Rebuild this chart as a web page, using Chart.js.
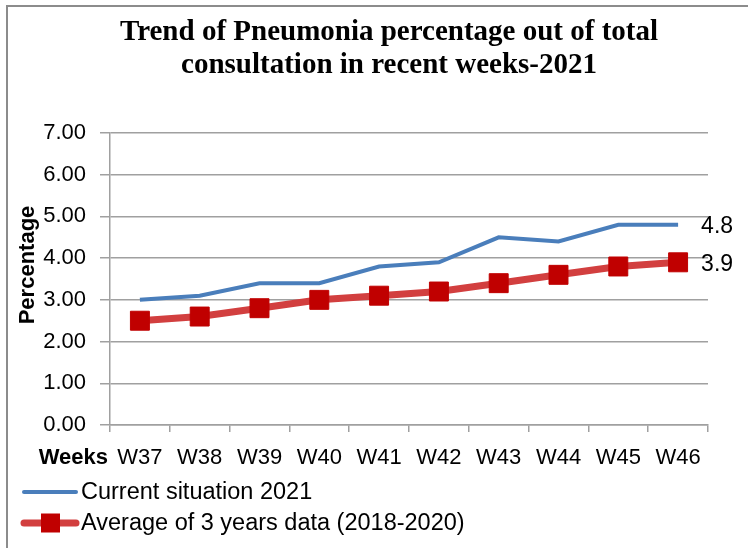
<!DOCTYPE html>
<html>
<head>
<meta charset="utf-8">
<script src="https://cdn.jsdelivr.net/npm/chart.js@4.4.0/dist/chart.umd.min.js"></script>
<style>
    body { margin: 0; background: #fff; }
    #wrap { width: 748px; height: 548px; }
</style>
</head>
<body>
<div id="wrap"><canvas id="pneumoniaChart" width="748" height="548"></canvas></div>
<script>
const weeks = ['W37', 'W38', 'W39', 'W40', 'W41', 'W42', 'W43', 'W44', 'W45', 'W46'];
const current2021 = [3.0, 3.1, 3.4, 3.4, 3.8, 3.9, 4.5, 4.4, 4.8, 4.8];
const avg3Years = [2.5, 2.6, 2.8, 3.0, 3.1, 3.2, 3.4, 3.6, 3.8, 3.9];
const yTicks = [0, 1, 2, 3, 4, 5, 6, 7];

const titleLines = ['Trend of Pneumonia percentage out of total', 'consultation in recent weeks-2021'];
const sansFont = "'Liberation Sans', Arial, sans-serif";

// Draws frame, title, axis captions, end labels and the legend
const decorations = {
    id: 'decorations',
    beforeDraw(chart) {
        const ctx = chart.ctx;
        ctx.save();
        ctx.strokeStyle = '#8c8c8c';
        ctx.lineWidth = 2;
        ctx.strokeRect(7, 6, 800, 600);
        ctx.restore();
    },
    afterDraw(chart) {
        const ctx = chart.ctx;
        ctx.save();

        // title
        ctx.fillStyle = '#000';
        ctx.font = "bold 29px 'Liberation Serif', 'Times New Roman', serif";
        ctx.textAlign = 'center';
        ctx.textBaseline = 'middle';
        ctx.fillText(titleLines[0], 389, 33);
        ctx.fillText(titleLines[1], 389, 66);

        // y caption, rotated
        ctx.save();
        ctx.translate(28, 265);
        ctx.rotate(-Math.PI / 2);
        ctx.font = 'bold 22px ' + sansFont;
        ctx.textAlign = 'center';
        ctx.fillText('Percentage', 0, 0);
        ctx.restore();

        // caption left of the week labels
        const xScale = chart.scales.x;
        ctx.font = 'bold 22px ' + sansFont;
        ctx.textAlign = 'right';
        ctx.fillText('Weeks', 108, xScale.top + 33);

        // value labels after the last point
        ctx.font = '23px ' + sansFont;
        ctx.textAlign = 'left';
        chart.data.datasets.forEach((ds, i) => {
            const pts = chart.getDatasetMeta(i).data;
            const last = pts[pts.length - 1];
            ctx.fillText(String(ds.data[ds.data.length - 1]), last.x + 23, last.y + 2);
        });

        // legend, one row per dataset
        const rows = [492, 523];
        chart.data.datasets.forEach((ds, i) => {
            const y = rows[i];
            ctx.strokeStyle = ds.borderColor;
            ctx.lineWidth = ds.borderWidth;
            ctx.lineCap = 'round';
            ctx.beginPath();
            ctx.moveTo(24, y);
            ctx.lineTo(76, y);
            ctx.stroke();
            if (ds.pointRadius > 0) {
                ctx.fillStyle = ds.pointBackgroundColor;
                ctx.fillRect(41, y - 9.5, 19, 19);
            }
            ctx.fillStyle = '#000';
            ctx.font = '23.5px ' + sansFont;
            ctx.textAlign = 'left';
            ctx.textBaseline = 'middle';
            ctx.fillText(ds.label, 81, y + 1);
        });

        ctx.restore();
    }
};

const ctx = document.getElementById('pneumoniaChart').getContext('2d');
new Chart(ctx, {
    type: 'line',
    data: {
        labels: weeks,
        datasets: [{
            label: 'Current situation 2021',
            data: current2021,
            borderColor: '#4a7ebb',
            borderWidth: 4,
            pointRadius: 0,
            tension: 0
        }, {
            label: 'Average of 3 years data (2018-2020)',
            data: avg3Years,
            borderColor: '#d23f3f',
            borderWidth: 7,
            pointStyle: 'rect',
            pointRadius: 13.4,
            pointBackgroundColor: '#c00000',
            pointBorderColor: '#c00000',
            pointBorderWidth: 1,
            tension: 0
        }]
    },
    options: {
        responsive: false,
        animation: false,
        layout: { padding: { top: 133, right: 40, left: 0, bottom: 0 } },
        plugins: {
            legend: { display: false },
            title: { display: false },
            tooltip: { enabled: false }
        },
        scales: {
            x: {
                offset: true,
                grid: {
                    offset: true,
                    drawOnChartArea: false,
                    drawTicks: true,
                    tickLength: 7,
                    color: '#a0a0a0',
                    lineWidth: 1.5
                },
                border: { color: '#a0a0a0', width: 1.5 },
                ticks: {
                    color: '#000',
                    padding: 13,
                    maxRotation: 0,
                    font: { family: sansFont, size: 22 }
                },
                afterFit(scale) { scale.height = 123; }
            },
            y: {
                min: 0,
                max: 7,
                afterBuildTicks(scale) { scale.ticks = yTicks.map(v => ({ value: v })); },
                grid: {
                    color: '#a0a0a0',
                    lineWidth: 1.5,
                    tickLength: 10
                },
                border: { color: '#a0a0a0', width: 1.5 },
                ticks: {
                    color: '#000',
                    padding: 14,
                    font: { family: sansFont, size: 22 },
                    callback: v => Number(v).toFixed(2)
                },
                afterFit(scale) { scale.width = 110; }
            }
        }
    },
    plugins: [decorations]
});
</script>
</body>
</html>
